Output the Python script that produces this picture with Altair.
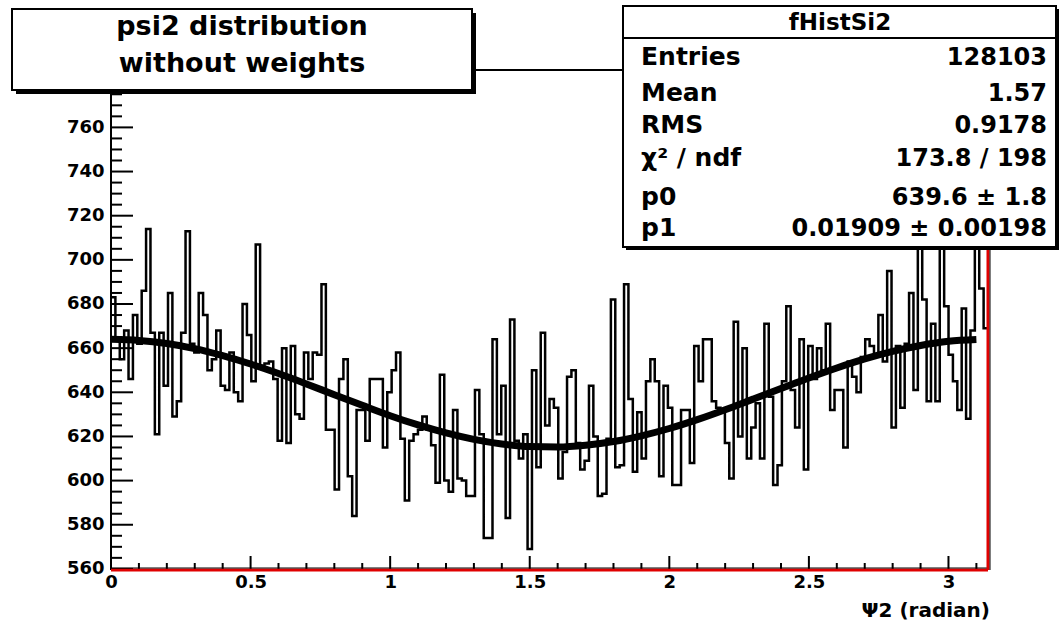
import math
import altair as alt
import pandas as pd

# ---------------- data ----------------
bin_counts = [
    683, 664, 655, 668, 646, 675, 662, 686, 714, 667,
    621, 667, 643, 685, 629, 636, 667, 713, 662, 658,
    685, 675, 650, 655, 668, 643, 641, 658, 640, 636,
    680, 666, 645, 707, 652, 653, 654, 646, 618, 660,
    617, 661, 630, 628, 658, 646, 658, 657, 689, 623,
    623, 596, 646, 655, 602, 584, 632, 632, 618, 646,
    646, 646, 615, 640, 650, 658, 619, 591, 618, 621,
    623, 629, 623, 616, 599, 648, 600, 595, 632, 601,
    600, 593, 593, 641, 621, 574, 574, 664, 621, 643,
    583, 673, 618, 610, 621, 569, 650, 606, 667, 625,
    637, 633, 601, 613, 647, 650, 617, 605, 609, 643,
    620, 593, 594, 619, 682, 606, 607, 689, 637, 604,
    631, 610, 645, 655, 645, 602, 643, 633, 598, 598,
    632, 632, 608, 661, 645, 664, 664, 636, 633, 632,
    617, 601, 672, 620, 660, 610, 624, 635, 610, 671,
    638, 598, 607, 645, 679, 641, 624, 664, 605, 661,
    646, 660, 650, 671, 632, 641, 641, 615, 654, 647,
    640, 656, 664, 661, 657, 675, 654, 695, 624, 661,
    633, 662, 685, 641, 715, 682, 636, 671, 636, 712,
    679, 657, 645, 632, 678, 628, 668, 710, 687, 669,
]
x_max = math.pi

fit_x = [0.0, 0.1, 0.2, 0.3, 0.4, 0.5, 0.6, 0.7, 0.8, 0.9, 1.0, 1.1, 1.2, 1.3, 1.4, 1.5,
         1.6, 1.7, 1.8, 1.9, 2.0, 2.1, 2.2, 2.3, 2.4, 2.5, 2.6, 2.7, 2.8, 2.9, 3.0, 3.1]
fit_y = [664.0, 663.5, 662.1, 659.8, 656.6, 652.8, 648.5, 643.8, 638.9, 634.1, 629.4,
         625.2, 621.6, 618.7, 616.6, 615.4, 615.2, 616.0, 617.7, 620.3, 623.6, 627.6,
         632.1, 636.9, 641.7, 646.5, 651.0, 655.1, 658.5, 661.2, 663.1, 663.9]

y_major = [560, 580, 600, 620, 640, 660, 680, 700, 720, 740, 760, 780]
y_minor = [v for v in range(560, 786, 5) if v % 20 != 0]
x_major = [0, 0.5, 1, 1.5, 2, 2.5, 3]
x_minor = [round(0.1 * i, 1) for i in range(32) if i % 5 != 0]

title_lines = ["psi2 distribution", "without weights"]
stats_title = "fHistSi2"
stats_labels = ["Entries", "Mean", "RMS", "χ² / ndf", "p0", "p1"]
stats_values = ["128103", "1.57", "0.9178", "173.8 / 198", "639.6 ± 1.8", "0.01909 ± 0.00198"]
x_title = "Ψ2 (radian)"

# ---------------- layout ----------------
W, H = 877, 500
FONT = "DejaVu Sans"
n_bins = len(bin_counts)
hist_df = pd.DataFrame({
    "edge": [i * x_max / n_bins for i in range(n_bins)] + [x_max],
    "count": bin_counts + [bin_counts[-1]],
})
fit_df = pd.DataFrame({"edge": fit_x, "count": fit_y})

XS = alt.Scale(domain=[0, x_max], nice=False, zero=False)
YS = alt.Scale(domain=[559.5, 786], nice=False, zero=False)

X_AX = alt.Axis(values=x_major, format="~g", ticks=False, tickSize=0, domain=False,
                grid=False, labelPadding=3, labelFlush=False, title=None,
                labelFont=FONT, labelFontWeight="bold", labelFontSize=18,
                labelColor="black")
Y_AX = alt.Axis(values=y_major, format="d", ticks=False, tickSize=0, domain=False,
                grid=False, labelPadding=7, labelFlush=False, title=None,
                labelFont=FONT, labelFontWeight="bold", labelFontSize=18,
                labelColor="black")

XE = alt.X("edge:Q", scale=XS, axis=X_AX)
YE = alt.Y("count:Q", scale=YS, axis=Y_AX)

one = alt.Data(values=[{"k": 1}])


def rect(x1, x2, y1, y2, fill, stroke=None, sw=0):
    kw = dict(fill=fill)
    if stroke:
        kw.update(stroke=stroke, strokeWidth=sw)
    return alt.Chart(one).mark_rect(**kw).encode(
        x=alt.value(x1), x2=alt.value(x2), y=alt.value(y1), y2=alt.value(y2))


def rule(x1, x2, y1, y2, color, sw):
    return alt.Chart(one).mark_rule(color=color, strokeWidth=sw).encode(
        x=alt.value(x1), x2=alt.value(x2), y=alt.value(y1), y2=alt.value(y2))


def text(s, x, y, size, align="left", weight="bold", color="black"):
    return alt.Chart(one).mark_text(
        align=align, baseline="alphabetic", font=FONT, fontSize=size,
        fontWeight=weight, color=color).encode(
        x=alt.value(x), y=alt.value(y), text=alt.value(s))


hist = alt.Chart(hist_df).mark_line(
    interpolate="step-after", color="black", strokeWidth=2.5).encode(x=XE, y=YE)

fit = alt.Chart(fit_df).mark_line(
    interpolate="monotone", color="black", strokeWidth=7).encode(x=XE, y=YE)

ymaj = alt.Chart(pd.DataFrame({"count": y_major})).mark_rule(
    color="black", strokeWidth=2).encode(y=YE, x=alt.value(0), x2=alt.value(22))
ymin = alt.Chart(pd.DataFrame({"count": y_minor})).mark_rule(
    color="black", strokeWidth=2).encode(y=YE, x=alt.value(0), x2=alt.value(11))
xmaj = alt.Chart(pd.DataFrame({"edge": x_major})).mark_rule(
    color="black", strokeWidth=2).encode(x=XE, y=alt.value(H), y2=alt.value(H - 14))
xmin = alt.Chart(pd.DataFrame({"edge": x_minor})).mark_rule(
    color="black", strokeWidth=2).encode(x=XE, y=alt.value(H), y2=alt.value(H - 7))

frame = [
    rule(0, W, 0, 0, "black", 2),            # top of frame
    rule(0, 0, 0, H, "black", 2),            # left axis
    rule(0, W, H, H, "#e00000", 3),          # bottom (red)
    rule(0, W, H - 2, H - 2, "black", 1),
    rule(W, W, 0, H, "#e00000", 3),          # right (red)
    rule(W + 2, W + 2, 0, H, "black", 1),
]

# title box (pave) with shadow
tbox = [
    rect(-95, 365, -57, 24, "black"),
    rect(-99, 361, -61, 20, "white", "black", 2),
    text(title_lines[0], 131, -35, 27, align="center"),
    text(title_lines[1], 131, 2, 27, align="center"),
]

# stats box with shadow
SX1, SX2, SY1, SY2 = 512, 945, -64, 177
sbox = [
    rect(SX1 + 3, SX2 + 3, SY1 + 3, SY2 + 3, "black"),
    rect(SX1, SX2, SY1, SY2, "white", "black", 2),
    rule(SX1, SX2, -32, -32, "black", 2),
    text(stats_title, 729, -40, 23, align="center"),
]
row_y = [-5, 31, 63, 96, 135, 166]
for lab, val, ry in zip(stats_labels, stats_values, row_y):
    sbox.append(text(lab, 530, ry, 25))
    sbox.append(text(val, 936, ry, 24, align="right"))

xt = text(x_title, 879, 547, 20, align="right")

chart = alt.layer(
    hist, fit, ymaj, ymin, xmaj, xmin, *frame, *tbox, *sbox, xt
).properties(
    width=W, height=H,
    padding={"left": 111, "top": 70, "right": 74, "bottom": 52},
    autosize=alt.AutoSizeParams(type="none"),
    background="white",
).configure_view(stroke=None)

chart.save("out.html", embed_options={"renderer": "svg", "actions": False})
